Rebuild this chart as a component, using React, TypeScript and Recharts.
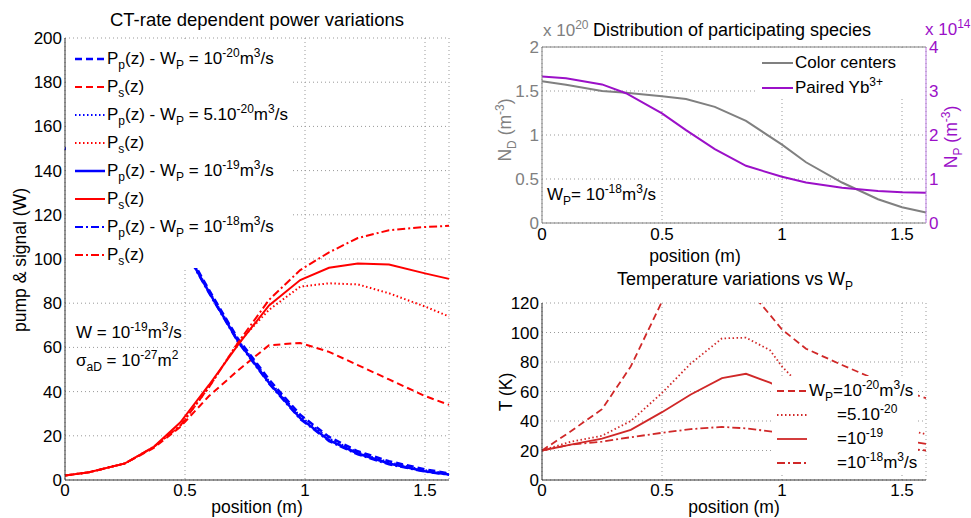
import { CartesianGrid, Legend, Line, LineChart, ReferenceLine, XAxis, YAxis } from 'recharts';
import type { ReactNode } from 'react';

const FONT = '"Liberation Sans", Arial, Helvetica, sans-serif';

// ---- left panel: CT-rate dependent power variations ----
const powerPositions = [0, 0.1, 0.25, 0.37, 0.48, 0.6, 0.72, 0.85, 0.98, 1.1, 1.22, 1.35, 1.5, 1.6];
const pumpW20 = [150, 147, 138, 125.5, 109, 86, 64, 45.5, 29.5, 19.5, 13, 8.5, 4.8, 3];
const signalW20 = [2, 3.5, 7.5, 14.5, 24, 38, 49.5, 61, 62, 58, 52, 45.5, 38, 34];
const pumpW5e20 = [150, 147, 138, 125, 108.5, 85.5, 63.5, 44.8, 28.8, 18.8, 12.5, 8, 4.4, 2.8];
const signalW5e20 = [2, 3.5, 7.5, 15, 24.5, 42, 62, 77, 87.5, 89, 88.5, 84.5, 78.5, 74];
const pumpW19 = [150, 147, 138, 125, 108, 85, 63, 44, 28, 18, 12, 7.5, 4, 2.5];
const signalW19 = [2, 3.5, 7.5, 15, 26, 43, 61, 79, 90.5, 96, 98, 97.5, 93.5, 91];
const pumpW18 = [150, 147, 138, 124.5, 107.5, 84.5, 62.5, 43.5, 27.5, 17.5, 11.5, 7, 3.7, 2.3];
const signalW18 = [2, 3.5, 7.5, 15, 24.5, 42, 62, 81.5, 95, 103, 109.5, 113, 114.5, 115];
const powerTicks = [0, 20, 40, 60, 80, 100, 120, 140, 160, 180, 200];

// ---- top right: distribution of participating species ----
const speciesPositions = [0, 0.1, 0.25, 0.35, 0.5, 0.6, 0.72, 0.85, 1.0, 1.1, 1.25, 1.4, 1.5, 1.6];
const colorCenters = [1.61, 1.57, 1.5, 1.48, 1.44, 1.41, 1.32, 1.16, 0.89, 0.69, 0.46, 0.27, 0.18, 0.12];
const pairedYb = [3.33, 3.29, 3.15, 2.95, 2.49, 2.11, 1.68, 1.3, 1.05, 0.92, 0.8, 0.73, 0.7, 0.69];
const ndTicks = [0, 0.5, 1, 1.5, 2];
const npTicks = [0, 1, 2, 3, 4];

// ---- bottom right: temperature variations ----
const tempPositions = [0, 0.12, 0.25, 0.37, 0.5, 0.62, 0.75, 0.85, 0.95, 1.0, 1.1, 1.25, 1.35, 1.5, 1.6];
const tempW20 = [20, 33, 48, 77, 121, 145, 152, 131, 112, 102, 89, 78, 71, 61, 55.5];
const tempW5e20 = [20, 26, 30, 40, 59, 79, 96, 96.5, 88, 77, 60, 48, 42, 35, 31];
const tempW19 = [20, 24, 28, 34, 46, 58, 69, 72, 66, 62, 52, 40, 34, 27, 24.5];
const tempW18 = [20, 24, 26, 29, 32, 34.5, 36, 35, 33, 32, 29, 26, 24, 21.5, 20];
const tempTicks = [0, 20, 40, 60, 80, 100, 120];

const posTicks = [0, 0.5, 1, 1.5];

const DASH = '7 4';
const DOT = '1.5 2.5';
const DASHDOT = '8 3 2 3';

const BLUE = '#0000ff';
const RED = '#ff0000';
const GRAY = '#808080';
const PURPLE = '#9b10c8';
const TEMP_RED = '#d02828';

const powerData = powerPositions.map((z, i) => ({
  z,
  pp20: pumpW20[i],
  ps20: signalW20[i],
  pp5: pumpW5e20[i],
  ps5: signalW5e20[i],
  pp19: pumpW19[i],
  ps19: signalW19[i],
  pp18: pumpW18[i],
  ps18: signalW18[i],
}));

const speciesData = speciesPositions.map((z, i) => ({ z, nd: colorCenters[i], np: pairedYb[i] }));

const tempData = tempPositions.map((z, i) => ({
  z,
  t20: tempW20[i],
  t5: tempW5e20[i],
  t19: tempW19[i],
  t18: tempW18[i],
}));

const Sub = ({ children }: { children: ReactNode }) => (
  <span style={{ fontSize: 12, position: 'relative', top: 5 }}>{children}</span>
);
const Sup = ({ children }: { children: ReactNode }) => (
  <span style={{ fontSize: 12, position: 'relative', top: -7 }}>{children}</span>
);

const pumpLabel = (exp: ReactNode) => (
  <>
    P<Sub>p</Sub>(z) - W<Sub>P</Sub> = {exp}m<Sup>3</Sup>/s
  </>
);
const signalLabel = (
  <>
    P<Sub>s</Sub>(z)
  </>
);

const powerSeries = [
  { key: 'pp20', color: BLUE, dash: DASH, width: 2.5, label: pumpLabel(<>10<Sup>-20</Sup></>) },
  { key: 'ps20', color: RED, dash: DASH, width: 2, label: signalLabel },
  { key: 'pp5', color: BLUE, dash: DOT, width: 2, label: pumpLabel(<>5.10<Sup>-20</Sup></>) },
  { key: 'ps5', color: RED, dash: DOT, width: 2, label: signalLabel },
  { key: 'pp19', color: BLUE, dash: undefined, width: 2.5, label: pumpLabel(<>10<Sup>-19</Sup></>) },
  { key: 'ps19', color: RED, dash: undefined, width: 2, label: signalLabel },
  { key: 'pp18', color: BLUE, dash: DASHDOT, width: 2, label: pumpLabel(<>10<Sup>-18</Sup></>) },
  { key: 'ps18', color: RED, dash: DASHDOT, width: 2, label: signalLabel },
];

const tempSeries = [
  { key: 't20', dash: DASH, label: <>W<Sub>P</Sub>=10<Sup>-20</Sup>m<Sup>3</Sup>/s</>, indent: 37 },
  { key: 't5', dash: DOT, label: <>=5.10<Sup>-20</Sup></>, indent: 65 },
  { key: 't19', dash: undefined, label: <>=10<Sup>-19</Sup></>, indent: 65 },
  { key: 't18', dash: DASHDOT, label: <>=10<Sup>-18</Sup>m<Sup>3</Sup>/s</>, indent: 65 },
];

const tick = { fontSize: 17, fill: '#000', fontFamily: FONT };

function Sample({ color, dash, width = 2, len = 30 }: { color: string; dash?: string; width?: number; len?: number }) {
  return (
    <svg width={len} height={10} style={{ display: 'block', flex: 'none' }}>
      <line x1={0} y1={5} x2={len} y2={5} stroke={color} strokeWidth={width} strokeDasharray={dash} />
    </svg>
  );
}

function PowerLegend() {
  return (
    <div style={{ paddingTop: 4, fontFamily: FONT, fontSize: 17 }}>
      {powerSeries.map((s) => (
        <div key={s.key} style={{ height: 28, display: 'flex', alignItems: 'center', paddingLeft: 9, whiteSpace: 'nowrap' }}>
          <Sample color={s.color} dash={s.dash} width={s.width} />
          <span style={{ marginLeft: 2 }}>{s.label}</span>
        </div>
      ))}
    </div>
  );
}

function SpeciesLegend() {
  const rows = [
    { color: GRAY, label: <>Color centers</> },
    { color: PURPLE, label: <>Paired Yb<Sup>3+</Sup></> },
  ];
  return (
    <div style={{ paddingTop: 2, fontFamily: FONT, fontSize: 17 }}>
      {rows.map((r, i) => (
        <div key={i} style={{ height: 25, display: 'flex', alignItems: 'center', paddingLeft: 4, whiteSpace: 'nowrap' }}>
          <Sample color={r.color} len={31} />
          <span style={{ marginLeft: 2 }}>{r.label}</span>
        </div>
      ))}
    </div>
  );
}

function TempLegend() {
  return (
    <div style={{ paddingTop: 3, fontFamily: FONT, fontSize: 17 }}>
      {tempSeries.map((s) => (
        <div key={s.key} style={{ height: 24, position: 'relative', whiteSpace: 'nowrap' }}>
          <div style={{ position: 'absolute', left: 5, top: 7 }}>
            <Sample color={TEMP_RED} dash={s.dash} width={1.8} />
          </div>
          <span style={{ position: 'absolute', left: s.indent, top: 2 }}>{s.label}</span>
        </div>
      ))}
    </div>
  );
}

function Txt({ x, y, color = '#000', size = 17, children }: { x: number; y: number; color?: string; size?: number; children: ReactNode }) {
  return (
    <div style={{ position: 'absolute', left: x, top: y, color, fontSize: size, whiteSpace: 'nowrap', lineHeight: '18px' }}>
      {children}
    </div>
  );
}

function CenterTxt({ x, y, color = '#000', size = 17.5, children }: { x: number; y: number; color?: string; size?: number; children: ReactNode }) {
  return (
    <div style={{ position: 'absolute', left: x, top: y, transform: 'translate(-50%, -50%)', color, fontSize: size, whiteSpace: 'nowrap', lineHeight: '17px' }}>
      {children}
    </div>
  );
}

function RotTxt({ x, y, color = '#000', children }: { x: number; y: number; color?: string; children: ReactNode }) {
  return (
    <div style={{ position: 'absolute', left: x, top: y, transform: 'translate(-50%, -50%) rotate(-90deg)', color, fontSize: 17.5, whiteSpace: 'nowrap', lineHeight: '18px' }}>
      {children}
    </div>
  );
}

export default function App() {
  return (
    <div style={{ position: 'absolute', left: 0, top: 0, width: 971, height: 518, background: '#fff', fontFamily: FONT, overflow: 'hidden' }}>
      {/* left: power */}
      <div style={{ position: 'absolute', left: 0, top: 0 }}>
        <LineChart width={470} height={518} data={powerData} margin={{ top: 38, right: 21, bottom: 8, left: 0 }}>
          <CartesianGrid stroke="#999" strokeDasharray="1 3" />
          <XAxis
            dataKey="z"
            type="number"
            domain={[0, 1.6]}
            ticks={posTicks}
            height={30}
            tick={tick}
            tickLine={false}
            tickSize={2}
            tickMargin={2}
            axisLine={{ stroke: '#333' }}
          />
          <YAxis
            domain={[0, 200]}
            ticks={powerTicks}
            width={65}
            tick={tick}
            tickLine={false}
            tickSize={3}
            tickMargin={0}
            axisLine={{ stroke: '#333' }}
          />
          {powerSeries.map((s) => (
            <Line
              key={s.key}
              type="linear"
              dataKey={s.key}
              stroke={s.color}
              strokeWidth={s.width}
              strokeDasharray={s.dash}
              dot={false}
              isAnimationActive={false}
            />
          ))}
          <Legend
            layout="vertical"
            align="center"
            verticalAlign="middle"
            content={() => <PowerLegend />}
            wrapperStyle={{ left: 66, top: 41, width: 226, height: 227, background: '#fff' }}
          />
        </LineChart>
      </div>

      {/* top right: species */}
      <div style={{ position: 'absolute', left: 470, top: 0 }}>
        <LineChart width={501} height={260} data={speciesData} margin={{ top: 47, right: 0, bottom: 7, left: 0 }}>
          <CartesianGrid yAxisId="left" stroke="#999" strokeDasharray="1 3" />
          <XAxis
            dataKey="z"
            type="number"
            domain={[0, 1.6]}
            ticks={posTicks}
            height={30}
            tick={tick}
            tickLine={false}
            tickSize={3}
            tickMargin={2}
            axisLine={{ stroke: GRAY }}
          />
          <YAxis
            yAxisId="left"
            domain={[0, 2]}
            ticks={ndTicks}
            width={72}
            tick={{ ...tick, fill: GRAY }}
            tickLine={false}
            tickSize={3}
            tickMargin={0}
            axisLine={{ stroke: GRAY }}
          />
          <YAxis
            yAxisId="right"
            orientation="right"
            domain={[0, 4]}
            ticks={npTicks}
            width={45}
            tick={{ ...tick, fill: PURPLE }}
            tickLine={false}
            tickSize={3}
            tickMargin={0}
            axisLine={{ stroke: '#b878e0' }}
          />
          <ReferenceLine yAxisId="left" y={2} stroke={GRAY} />
          <Line yAxisId="left" type="linear" dataKey="nd" stroke={GRAY} strokeWidth={2} dot={false} isAnimationActive={false} />
          <Line yAxisId="right" type="linear" dataKey="np" stroke={PURPLE} strokeWidth={2} dot={false} isAnimationActive={false} />
          <Legend
            layout="vertical"
            align="center"
            verticalAlign="middle"
            content={() => <SpeciesLegend />}
            wrapperStyle={{ left: 288, top: 48, width: 166, height: 50, background: '#fff' }}
          />
        </LineChart>
      </div>

      {/* bottom right: temperature */}
      <div style={{ position: 'absolute', left: 470, top: 260 }}>
        <LineChart width={501} height={258} data={tempData} margin={{ top: 43, right: 45, bottom: 8, left: 0 }}>
          <CartesianGrid stroke="#999" strokeDasharray="1 3" />
          <XAxis
            dataKey="z"
            type="number"
            domain={[0, 1.6]}
            ticks={posTicks}
            height={30}
            tick={tick}
            tickLine={false}
            tickSize={2}
            tickMargin={2}
            axisLine={{ stroke: '#333' }}
          />
          <YAxis
            domain={[0, 120]}
            ticks={tempTicks}
            allowDataOverflow
            width={72}
            tick={tick}
            tickLine={false}
            tickSize={3}
            tickMargin={0}
            axisLine={{ stroke: '#333' }}
          />
          {tempSeries.map((s) => (
            <Line
              key={s.key}
              type="linear"
              dataKey={s.key}
              stroke={TEMP_RED}
              strokeWidth={1.8}
              strokeDasharray={s.dash}
              dot={false}
              isAnimationActive={false}
            />
          ))}
          <Legend
            layout="vertical"
            align="center"
            verticalAlign="middle"
            content={() => <TempLegend />}
            wrapperStyle={{ left: 302, top: 116, width: 146, height: 98, background: '#fff' }}
          />
        </LineChart>
      </div>

      {/* texts */}
      <CenterTxt x={257} y={19} size={18.5}>CT-rate dependent power variations</CenterTxt>
      <CenterTxt x={257} y={507}>position (m)</CenterTxt>
      <RotTxt x={20} y={260}>pump &amp; signal (W)</RotTxt>
      <Txt x={76} y={324}>
        W = 10<Sup>-19</Sup>m<Sup>3</Sup>/s
      </Txt>
      <Txt x={76} y={352}>
        σ<Sub>aD</Sub> = 10<Sup>-27</Sup>m<Sup>2</Sup>
      </Txt>

      <CenterTxt x={732} y={30} size={18}>Distribution of participating species</CenterTxt>
      <Txt x={543} y={22} color={GRAY}>
        x 10<Sup>20</Sup>
      </Txt>
      <Txt x={925} y={21} color={PURPLE}>
        x 10<Sup>14</Sup>
      </Txt>
      <RotTxt x={506} y={130} color={GRAY}>
        N<Sub>D</Sub> (m<Sup>-3</Sup>)
      </RotTxt>
      <RotTxt x={952} y={137} color={PURPLE}>
        N<Sub>P</Sub> (m<Sup>-3</Sup>)
      </RotTxt>
      <Txt x={547} y={186}>
        W<Sub>P</Sub>= 10<Sup>-18</Sup>m<Sup>3</Sup>/s
      </Txt>
      <CenterTxt x={695} y={256}>position (m)</CenterTxt>

      <CenterTxt x={735} y={280} size={18}>
        Temperature variations vs W<Sub>P</Sub>
      </CenterTxt>
      <RotTxt x={506} y={392}>T (K)</RotTxt>
      <CenterTxt x={734} y={507}>position (m)</CenterTxt>
    </div>
  );
}
